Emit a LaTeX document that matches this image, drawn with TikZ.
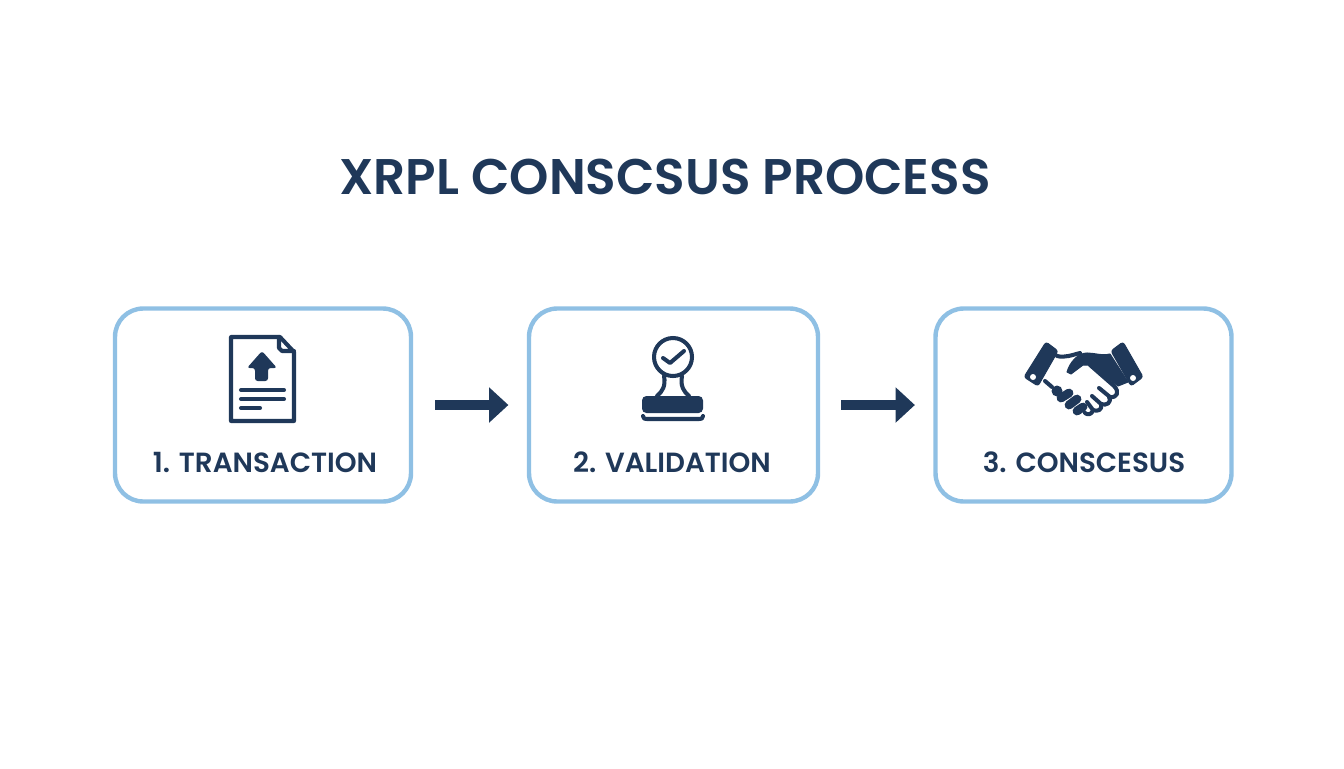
\documentclass[tikz,border=0pt]{standalone}
\usepackage{fontspec}
\setmainfont{Poppins}[BoldFont={Poppins SemiBold}]
\usetikzlibrary{arrows.meta}
\definecolor{navy}{HTML}{1F3859}
\definecolor{sky}{HTML}{8FC0E4}
\tikzset{
    box/.style={draw=sky,line width=2.5pt,rounded corners=16pt,minimum width=5.92cm,minimum height=3.86cm,fill=white},
    label/.style={text=navy,font=\bfseries\fontsize{15.8}{18}\selectfont},
    flow/.style={draw=navy,line width=5.6pt,-{Triangle[length=11pt,width=19.5pt]}},
    ink/.style={draw=navy,line width=2.3pt,line cap=round,line join=round},
    solid ink/.style={fill=navy,draw=navy,line width=.6pt,line join=round},
}
\begin{document}
\begin{tikzpicture}[x=0.02cm,y=-0.02cm]
    \useasboundingbox (0,0) rectangle (1344,768);

    % Title
    \node [text=navy,font=\bfseries\fontsize{28.5}{34}\selectfont] (title) at (665,177) {XRPL CONSCSUS PROCESS};

    % Boxes
    \node [box] (tx) at (263,405) {};
    \node [box,minimum width=5.78cm] (val) at (673.5,405) {};
    \node [box] (con) at (1083.5,405) {};

    \node [label] (txl) at (265,462) {1. TRANSACTION};
    \node [label] (vall) at (672,462) {2. VALIDATION};
    \node [label] (conl) at (1084,462) {3. CONSCESUS};

    % Arrows
    \draw [flow,shorten <=12.5pt,shorten >=10.5pt] (tx) -- (val);
    \draw [flow,shorten <=11.9pt,shorten >=10.5pt] (val) -- (con);

    % Document
    \draw [ink] (231,337) -- (280,337) -- (294,352) -- (294,421) -- (231,421) -- cycle;
    \draw [ink] (279,337) -- (279,348) -- (282,351) -- (294,351);
    \fill [navy,rounded corners=1.5pt] (262,351) -- (277,368) -- (268,368) -- (268,381) -- (255,381) -- (255,368) -- (247,368) -- cycle;
    \draw [ink] (241,390) -- (284,390);
    \draw [ink] (241,399) -- (284,399);
    \draw [ink] (241,408) -- (260,408);

    % Stamp
    \draw [ink] (673,357) circle (19);
    \draw [ink] (663,358) -- (670,363) -- (684,351);
    \draw [ink] (664,376) .. controls (666,386) and (662,392) .. (657,396);
    \draw [ink] (682,376) .. controls (680,386) and (684,392) .. (689,396);
    \fill [navy,rounded corners=2.5pt] (642,413) -- (642,396) -- (703,396) -- (703,413) -- cycle;
    \draw [ink] (643,416) .. controls (644,419) .. (647,419) -- (699,419) .. controls (702,419) .. (703,416);

    % Handshake
    \filldraw [solid ink,rounded corners=1.5pt] (1046,342) -- (1058,351) -- (1038,386) -- (1024,377) -- cycle;
    \filldraw [solid ink,rounded corners=1.5pt] (1123,342) -- (1111,351) -- (1131,386) -- (1143,377) -- cycle;
    \fill [white] (1033,377) circle (3);
    \fill [white] (1133,378) circle (3);
    \draw [ink] (1057,356) .. controls (1065,358) and (1072,355) .. (1080,353);
    \filldraw [solid ink] (1067,372) .. controls (1070,362) and (1078,353) .. (1087,353) .. controls (1094,353) and (1102,356) .. (1110,354) -- (1128,382) -- (1118,386) -- (1091,365) -- (1083,365) -- (1071,374) -- cycle;
    \draw [ink] (1045,381) -- (1052,387);
    \fill [navy] (1057,391) circle (5.5);
    \draw [ink,line width=5pt] (1061,398) -- (1069,393);
    \draw [ink,line width=5pt] (1069,405) -- (1077,399);
    \draw [ink,line width=5pt] (1077,411) -- (1083,407);
    \draw [ink] (1090,365) -- (1114,386) .. controls (1120,392) and (1117,398) .. (1110,397) -- (1099,388);
    \draw [ink] (1109,397) .. controls (1112,403) and (1106,406) .. (1101,404) -- (1092,396);
    \draw [ink] (1101,404) .. controls (1103,410) and (1097,412) .. (1093,410) -- (1087,402);
    \draw [ink] (1093,410) .. controls (1092,415) and (1087,415) .. (1085,413);
\end{tikzpicture}
\end{document}
